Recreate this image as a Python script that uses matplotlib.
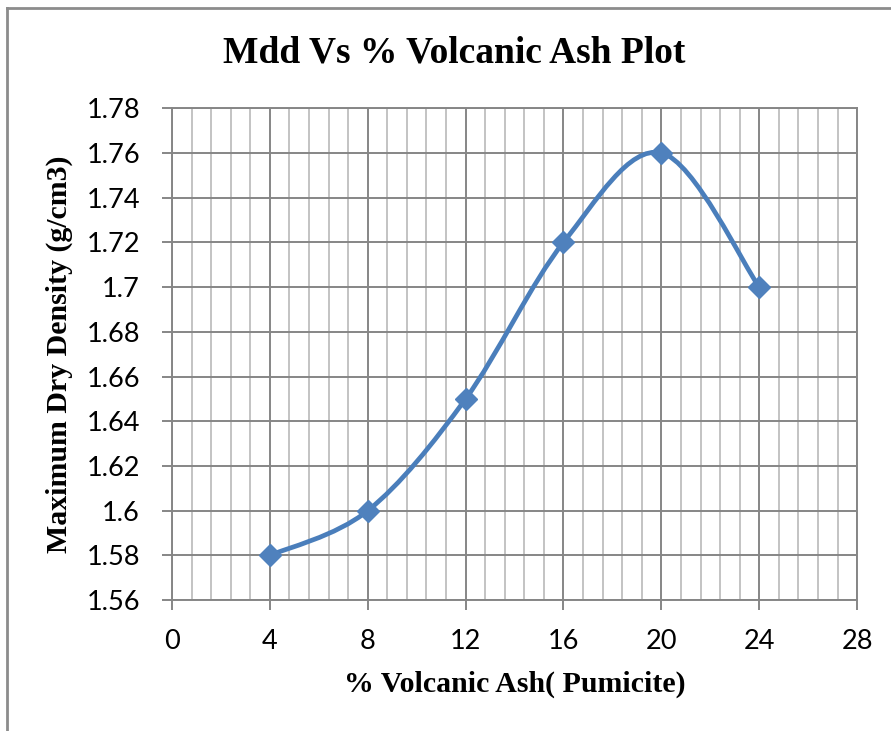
import matplotlib.pyplot as plt
from matplotlib.path import Path
from matplotlib.patches import PathPatch
from matplotlib.lines import Line2D
from matplotlib.ticker import MultipleLocator
import numpy as np

# data
ash_pct = [4, 8, 12, 16, 20, 24]
mdd = [1.58, 1.60, 1.65, 1.72, 1.76, 1.70]

title = "Mdd Vs % Volcanic Ash Plot"
xlabel = "% Volcanic Ash( Pumicite)"
ylabel = "Maximum Dry Density (g/cm3)"

blue = "#4A7EBB"
major_grey = "#868686"
minor_grey = "#BEBEBE"


# Excel-like smoothed line: cubic bezier segments through the points
def smooth_path(x, y, t=1/6):
    x = np.asarray(x, float)
    y = np.asarray(y, float)
    n = len(x)
    verts = [(x[0], y[0])]
    codes = [Path.MOVETO]
    for i in range(n - 1):
        x0, y0 = (x[i - 1], y[i - 1]) if i > 0 else (x[i], y[i])
        x3, y3 = (x[i + 2], y[i + 2]) if i + 2 < n else (x[i + 1], y[i + 1])
        c1 = (x[i] + (x[i + 1] - x0) * t, y[i] + (y[i + 1] - y0) * t)
        c2 = (x[i + 1] - (x3 - x[i]) * t, y[i + 1] - (y3 - y[i]) * t)
        verts += [c1, c2, (x[i + 1], y[i + 1])]
        codes += [Path.CURVE4] * 3
    return Path(verts, codes)


fig = plt.figure(figsize=(8.91, 7.31), dpi=100)
ax = fig.add_axes([0.193, 0.179, 0.769, 0.673])

ax.set_xlim(0, 28)
ax.set_ylim(1.56, 1.78)
ax.xaxis.set_major_locator(MultipleLocator(4))
ax.xaxis.set_minor_locator(MultipleLocator(0.8))
ax.set_yticks(np.round(np.arange(1.56, 1.7801, 0.02), 2))
ax.set_yticklabels(["1.56", "1.58", "1.6", "1.62", "1.64", "1.66", "1.68",
                    "1.7", "1.72", "1.74", "1.76", "1.78"])

ax.grid(which="major", color=major_grey, linewidth=1.4)
ax.grid(which="minor", axis="x", color=minor_grey, linewidth=1.3)
ax.set_axisbelow(True)
for s in ax.spines.values():
    s.set_color(major_grey)
    s.set_linewidth(1.4)

ax.tick_params(which="major", length=7, width=1.4, color=major_grey,
               labelsize=19.5)
ax.tick_params(which="minor", length=0)
ax.tick_params(axis="y", pad=16)
ax.tick_params(axis="x", pad=14)
for lab in ax.get_xticklabels() + ax.get_yticklabels():
    lab.set_fontfamily("Lato")

curve = PathPatch(smooth_path(ash_pct, mdd), facecolor="none",
                  edgecolor=blue, linewidth=3.4, capstyle="round",
                  joinstyle="round", zorder=3)
ax.add_patch(curve)
ax.plot(ash_pct, mdd, linestyle="none", marker="D", markersize=11,
        color="#4F81BD", zorder=4)

serif = "Liberation Serif"
fig.text(0.51, 0.927, title, ha="center", va="center",
         fontsize=27, fontweight="bold", fontfamily=serif)
ax.set_xlabel(xlabel, fontsize=21.5, fontweight="bold", fontfamily=serif,
              labelpad=12)
ax.set_ylabel(ylabel, fontsize=21.5, fontweight="bold", fontfamily=serif,
              labelpad=10)

# chart-area frame (only top and left edges are visible in the crop)
fig.add_artist(Line2D([7 / 891, 7 / 891], [0, 1 - 8 / 731],
                      transform=fig.transFigure, color="#8C8C8C", linewidth=2))
fig.add_artist(Line2D([7 / 891, 1], [1 - 8 / 731, 1 - 8 / 731],
                      transform=fig.transFigure, color="#8C8C8C", linewidth=2))

fig.savefig("out.png", dpi=100)
